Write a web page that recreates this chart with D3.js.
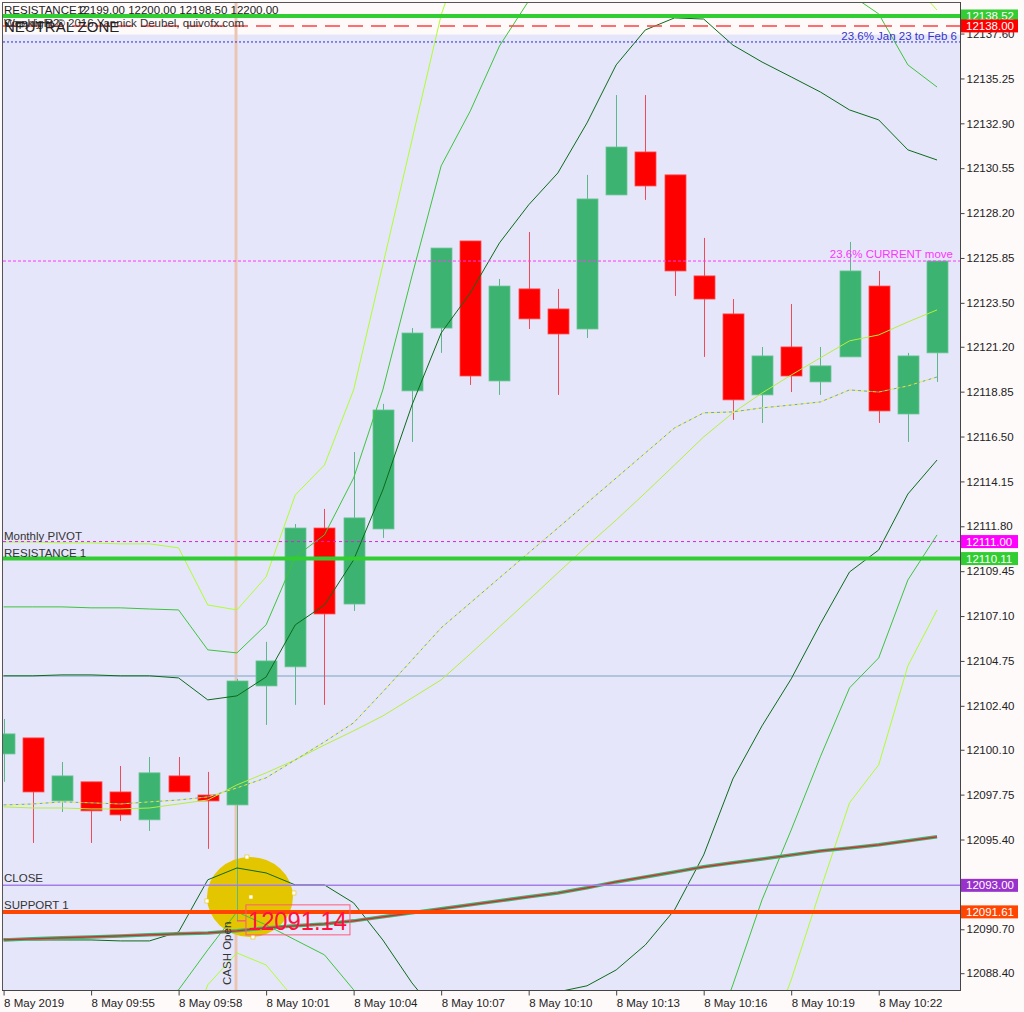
<!DOCTYPE html>
<html><head><meta charset="utf-8">
<script src="https://cdn.jsdelivr.net/npm/d3@7"></script>
<style>html,body{margin:0;padding:0;background:#fffafa;} svg{display:block;font-family:"Liberation Sans",Arial,sans-serif;}</style>
</head><body><svg id="c" width="1024" height="1012"></svg>
<script>
// ---------- DATA ----------
const times = ["09:52","09:53","09:54","09:55","09:56","09:57","09:58","09:59","10:00","10:01","10:02","10:03","10:04","10:05","10:06","10:07","10:08","10:09","10:10","10:11","10:12","10:13","10:14","10:15","10:16","10:17","10:18","10:19","10:20","10:21","10:22","10:23","10:24"];
const open  = [12099.88,12100.72,12097.42,12098.42,12097.89,12096.43,12098.73,12097.73,12097.21,12103.44,12104.44,12111.71,12107.73,12111.66,12118.89,12122.18,12126.74,12119.41,12124.23,12123.18,12122.13,12129.15,12131.40,12130.20,12124.91,12122.92,12118.68,12121.19,12119.36,12120.67,12124.38,12117.68,12120.88];
const high  = [12101.71,12100.72,12099.46,12098.42,12099.25,12099.72,12099.72,12098.94,12103.81,12105.75,12111.92,12112.71,12115.69,12118.21,12122.18,12126.37,12126.74,12124.75,12127.21,12124.23,12130.20,12134.38,12134.38,12130.20,12126.90,12123.70,12121.19,12123.44,12121.19,12126.69,12125.17,12120.88,12125.69];
const low   = [12098.42,12095.22,12096.84,12095.22,12096.37,12095.85,12097.89,12094.91,12091.14,12101.40,12102.45,12102.45,12107.37,12111.19,12116.22,12120.88,12119.20,12118.68,12122.13,12118.68,12121.66,12129.15,12128.89,12123.86,12120.67,12117.37,12117.21,12118.83,12118.68,12120.67,12117.21,12116.22,12119.36];
const close = [12100.93,12097.89,12098.73,12096.90,12096.69,12098.89,12097.89,12097.42,12103.70,12104.75,12111.71,12107.21,12112.24,12117.89,12121.92,12126.37,12119.67,12124.38,12122.66,12121.87,12128.94,12131.66,12129.62,12125.17,12123.70,12118.42,12120.72,12119.67,12120.20,12125.17,12117.84,12120.72,12125.69];

const maSolid  = [12097.11,12097.05,12097.05,12097.00,12097.00,12097.05,12097.26,12097.47,12098.26,12098.89,12099.57,12100.35,12101.09,12101.87,12102.81,12103.76,12105.12,12106.53,12107.94,12109.36,12110.77,12112.13,12113.55,12115.01,12116.48,12117.74,12118.78,12119.72,12120.62,12121.51,12121.82,12122.50,12123.13];
const maDashed = [12097.21,12097.26,12097.37,12097.32,12097.26,12097.37,12097.47,12097.63,12098.10,12098.63,12099.57,12100.51,12101.51,12103.13,12104.80,12106.48,12107.79,12109.10,12110.41,12111.71,12113.02,12114.33,12115.64,12116.95,12117.74,12117.79,12118.00,12118.15,12118.31,12118.94,12118.83,12119.15,12119.62];
const maSlow   = [12090.14,12090.20,12090.25,12090.30,12090.35,12090.41,12090.46,12090.51,12090.62,12090.77,12090.88,12090.98,12091.14,12091.35,12091.56,12091.77,12091.98,12092.19,12092.40,12092.60,12092.87,12093.18,12093.44,12093.70,12093.97,12094.18,12094.38,12094.59,12094.80,12094.96,12095.12,12095.33,12095.54];
const bandDarkUp  = [12103.97,12103.97,12104.02,12104.02,12103.97,12103.97,12103.86,12102.71,12102.92,12103.91,12106.64,12107.68,12110.04,12113.70,12118.15,12121.92,12124.02,12126.64,12128.63,12130.30,12132.92,12135.96,12137.79,12138.42,12138.36,12137.00,12136.11,12135.33,12134.54,12133.60,12133.08,12131.51,12130.98];
const bandDarkLo  = [12090.20,12090.14,12090.14,12090.14,12090.09,12090.09,12090.56,12093.29,12093.91,12093.65,12093.02,12093.02,12092.08,12090.14,12087.89,12086.01,12086.01,12085.69,12086.22,12087.42,12087.74,12088.57,12089.88,12091.71,12094.59,12098.57,12101.35,12103.81,12106.69,12109.41,12110.56,12113.49,12115.27];
const bandMidUp   = [12107.58,12107.58,12107.58,12107.53,12107.53,12107.47,12107.42,12105.33,12105.17,12106.64,12110.20,12111.35,12114.33,12118.94,12124.91,12130.67,12133.55,12136.95,12139.31,12141.24,12144.49,12148.42,12150.35,12150.41,12149.31,12146.64,12144.80,12143.23,12141.51,12139.67,12138.63,12135.96,12134.80];
const bandMidLo   = [12086.69,12086.69,12086.69,12086.69,12086.69,12086.74,12087.53,12089.62,12091.61,12090.93,12090.14,12089.36,12087.53,12084.33,12080.35,12077.00,12076.48,12075.17,12075.22,12075.69,12075.07,12073.76,12074.96,12078.57,12083.65,12087.79,12092.24,12095.90,12099.73,12103.34,12104.91,12108.99,12111.35];
const bandLightUp = [12110.98,12110.98,12110.93,12110.93,12110.88,12110.88,12110.67,12107.68,12107.42,12109.15,12113.44,12115.01,12118.94,12125.48,12132.03,12138.57,12143.02,12147.21,12149.99,12152.13,12156.06,12160.82,12162.92,12162.34,12160.25,12156.22,12153.49,12151.09,12148.47,12145.69,12144.33,12140.51,12138.83];
const bandLightLo = [12083.23,12083.23,12083.23,12083.23,12083.23,12083.34,12083.86,12087.79,12089.46,12088.83,12087.00,12085.43,12082.81,12078.42,12073.91,12071.30,12069.73,12068.68,12068.15,12068.15,12067.63,12066.58,12067.11,12069.73,12073.91,12079.15,12083.97,12088.05,12092.76,12097.32,12099.31,12104.49,12107.42];

const levelNames  = ["RESISTANCE 2","Weekly R2","23.6%  Jan 23 to Feb 6","23.6% CURRENT move","Monthly PIVOT","RESISTANCE 1","Level","CLOSE","SUPPORT 1"];
const levelValues = [12138.52,12138.00,12137.16,12125.69,12111.00,12110.11,12103.96,12093.00,12091.61];
const badgeValues = [12138.52,12138.00,12111.00,12110.11,12093.00,12091.61];

const yTicks = [12137.60,12135.25,12132.90,12130.55,12128.20,12125.85,12123.50,12121.20,12118.85,12116.50,12114.15,12111.80,12109.45,12107.10,12104.75,12102.40,12100.10,12097.75,12095.40,12093.05,12090.70,12088.40];
const xTickTimes  = ["09:52","09:55","09:58","10:01","10:04","10:07","10:10","10:13","10:16","10:19","10:22"];
const xTickLabels = ["8 May 2019","8 May 09:55","8 May 09:58","8 May 10:01","8 May 10:04","8 May 10:07","8 May 10:10","8 May 10:13","8 May 10:16","8 May 10:19","8 May 10:22"];
const headerOHLC = "12199.00 12200.00 12198.50 12200.00";
const cashOpenTime = "10:00";
const lowLabel = 12091.14;
const circleValue = 12092.39;

// ---------- SETUP ----------
const T = s => { const [h,m] = s.split(":").map(Number); return new Date(2019,4,8,h,m); };
const L = 3, R = 960, TOP = 3, B = 990;
const x = d3.scaleTime().domain([new Date(2019,4,8,9,51,58,800), new Date(2019,4,8,10,24,47,200)]).range([L,R]);
const y = d3.scaleLinear().domain([12087.52,12139.20]).range([B,TOP]);
const svg = d3.select("#c");

svg.append("rect").attr("width",1024).attr("height",1012).attr("fill","#fffafa");
svg.append("defs").append("clipPath").attr("id","clip").append("rect")
  .attr("x",L).attr("y",TOP).attr("width",R-L).attr("height",B-TOP);
const plot = svg.append("g").attr("clip-path","url(#clip)");
plot.append("rect").attr("x",L).attr("y",TOP).attr("width",R-L).attr("height",B-TOP).attr("fill","#fffafa");
plot.append("rect").attr("x",L).attr("y",y(12137.55)).attr("width",R-L).attr("height",B-y(12137.55)).attr("fill","#e6e6fa");

// CASH open vertical
const xc = Math.round(x(T(cashOpenTime))) - 1;
plot.append("line").attr("x1",xc).attr("x2",xc).attr("y1",TOP).attr("y2",B).attr("stroke","#ebc5b3").attr("stroke-width",3);

// yellow circle annotation
const cx = x(T(cashOpenTime)) + 13, cy = y(circleValue);
plot.append("ellipse").attr("cx",cx).attr("cy",cy).attr("rx",43).attr("ry",40).attr("fill","#e3c600");
[[-3,-40],[44,-4],[-43,4],[3,40],[1,0]].forEach(([dx,dy])=>{
  plot.append("rect").attr("x",cx+dx-2).attr("y",cy+dy-2).attr("width",4).attr("height",4)
    .attr("fill","#fff").attr("stroke","#e3c600").attr("stroke-width",0.6);
});

// light steel blue level
plot.append("line").attr("x1",L).attr("x2",R).attr("y1",y(levelValues[6])).attr("y2",y(levelValues[6]))
  .attr("stroke","#b0c4de").attr("stroke-width",2);

// candles
const candles = times.map((t,i)=>({t:T(t),o:open[i],h:high[i],l:low[i],c:close[i]}));
const cg = plot.append("g");
candles.forEach(d=>{
  const up = d.c >= d.o;
  const cxp = Math.round(x(d.t)) + 0.5;
  cg.append("line").attr("x1",cxp).attr("x2",cxp).attr("y1",y(d.h)).attr("y2",y(d.l))
    .attr("stroke", up ? "#5cb889" : "#f04a5a").attr("stroke-width",1);
  const top = y(Math.max(d.o,d.c)), bot = y(Math.min(d.o,d.c));
  cg.append("rect").attr("x",cxp-10.5).attr("y",top).attr("width",21).attr("height",Math.max(1,bot-top))
    .attr("fill", up ? "#3cb371" : "#ff0000").attr("stroke", up ? "#6cc596" : "#ff4a4a").attr("stroke-width",0.8);
});

// indicator lines
const line = d3.line().x((d,i)=>x(T(times[i]))).y(d=>y(d));
const drawL = (arr,color,w,dash,off) => plot.append("path").datum(arr).attr("d",line).attr("fill","none")
  .attr("stroke",color).attr("stroke-width",w).attr("stroke-dasharray",dash||null).attr("stroke-dashoffset",off||0);
drawL(bandLightUp,"#adff2f",1); drawL(bandLightLo,"#adff2f",1);
drawL(bandMidUp,"#3cc43c",1);  drawL(bandMidLo,"#3cc43c",1);
drawL(bandDarkUp,"#0b6b1a",1); drawL(bandDarkLo,"#0b6b1a",1);
drawL(maSolid,"#b4f03c",1);
drawL(maDashed,"#6aa8a0",1,"3,3",0); drawL(maDashed,"#e8ee30",1,"3,3",3);
drawL(maSlow,"#3cb371",3.5); drawL(maSlow,"#e8202a",1.2);

// horizontal level lines
const hl = (v,color,w,dash) => plot.append("line").attr("x1",L).attr("x2",R).attr("y1",y(v)).attr("y2",y(v))
  .attr("stroke",color).attr("stroke-width",w).attr("stroke-dasharray",dash||null);
hl(levelValues[0],"#32cd32",4);
hl(levelValues[1],"#ff4040",1.5,"15,8");
hl(levelValues[2],"#2828d8",1,"2,2");
hl(levelValues[3],"#ff33ff",1,"3,2");
hl(levelValues[4],"#dd22dd",1,"3,3");
hl(levelValues[5],"#32cd32",4);
hl(levelValues[7],"#a37ee6",1.5);
hl(levelValues[8],"#ff4500",4);

// low price label
const xl = x(T(cashOpenTime));
plot.append("line").attr("x1",xl).attr("x2",xl+9).attr("y1",y(lowLabel)).attr("y2",y(lowLabel)).attr("stroke","#ff3399").attr("stroke-width",1);
plot.append("rect").attr("x",xl+9).attr("y",y(lowLabel)-16).attr("width",104).attr("height",30)
  .attr("fill","none").attr("stroke","#ff5a7a").attr("stroke-width",1);
plot.append("text").attr("x",xl+11).attr("y",y(lowLabel)+9).attr("font-size",25).attr("fill","#ff1040")
  .attr("textLength",99).attr("lengthAdjust","spacingAndGlyphs").text(lowLabel.toFixed(2));

// text labels
const txt = (g,xp,yp,s,size,fill,anchor) => g.append("text").attr("x",xp).attr("y",yp).attr("font-size",size)
  .attr("fill",fill).attr("text-anchor",anchor||"start").text(s);
txt(svg,4,14,levelNames[0],11.5,"#222");
txt(svg,77,14,headerOHLC,11.5,"#222");
txt(svg,4,27,"Copyright © 2016 Yannick Deubel, quivofx.com",11.5,"#333");
txt(svg,4,27,levelNames[1],11.5,"#333");
txt(svg,4,32,"NEUTRAL ZONE",15,"#222");
txt(svg,957,40,levelNames[2],11.5,"#3434cc","end");
txt(svg,953,258,levelNames[3],11.5,"#ff33ff","end");
txt(svg,4,y(levelValues[4])-2,levelNames[4],11.5,"#333");
txt(svg,4,y(levelValues[5])-2,levelNames[5],11.5,"#333");
txt(svg,4,y(levelValues[7])-3,levelNames[7],11.5,"#333");
txt(svg,4,y(levelValues[8])-3,levelNames[8],11.5,"#333");
svg.append("text").attr("transform",`translate(${xc-5},985) rotate(-90)`).attr("font-size",11.5).attr("fill","#333").text("CASH Open");

// frame
svg.append("line").attr("x1",L-0.5).attr("x2",L-0.5).attr("y1",TOP-1).attr("y2",B).attr("stroke","#555");
svg.append("line").attr("x1",L-1).attr("x2",R).attr("y1",TOP-0.5).attr("y2",TOP-0.5).attr("stroke","#555");

// axes
const ya = svg.append("g").attr("transform",`translate(${R+0.5},0)`)
  .call(d3.axisRight(y).tickValues(yTicks).tickFormat(d3.format(".2f")).tickSize(4).tickSizeOuter(0).tickPadding(2));
ya.select(".domain").attr("stroke","#444").attr("d",`M0,${TOP-1}V${B+0.5}`);
ya.selectAll("text").attr("font-size",11.5).attr("font-family","Liberation Sans, Arial").attr("fill","#222");
ya.selectAll("line").attr("stroke","#444");

const xa = svg.append("g").attr("transform",`translate(0,${B+0.5})`)
  .call(d3.axisBottom(x).tickValues(xTickTimes.map(T)).tickFormat((d,i)=>xTickLabels[i]).tickSize(5).tickSizeOuter(0).tickPadding(3));
xa.select(".domain").attr("stroke","#444").attr("d",`M${L-1},0H${R+1}`);
xa.selectAll("text").attr("font-size",11.5).attr("font-family","Liberation Sans, Arial").attr("fill","#222").attr("text-anchor","start").attr("dx",0);
xa.selectAll("line").attr("stroke","#444");

// badges
const badgeColors = ["#32cd32","#ff0000","#ff00ff","#32cd32","#9932cc","#ff4500"];
badgeValues.forEach((v,i)=>{
  const yy = y(v);
  svg.append("rect").attr("x",R+1).attr("y",yy-6.5).attr("width",57).attr("height",13).attr("fill",badgeColors[i]);
  txt(svg,R+6,yy+4,v.toFixed(2),11.5,"#fff");
});
</script></body></html>
